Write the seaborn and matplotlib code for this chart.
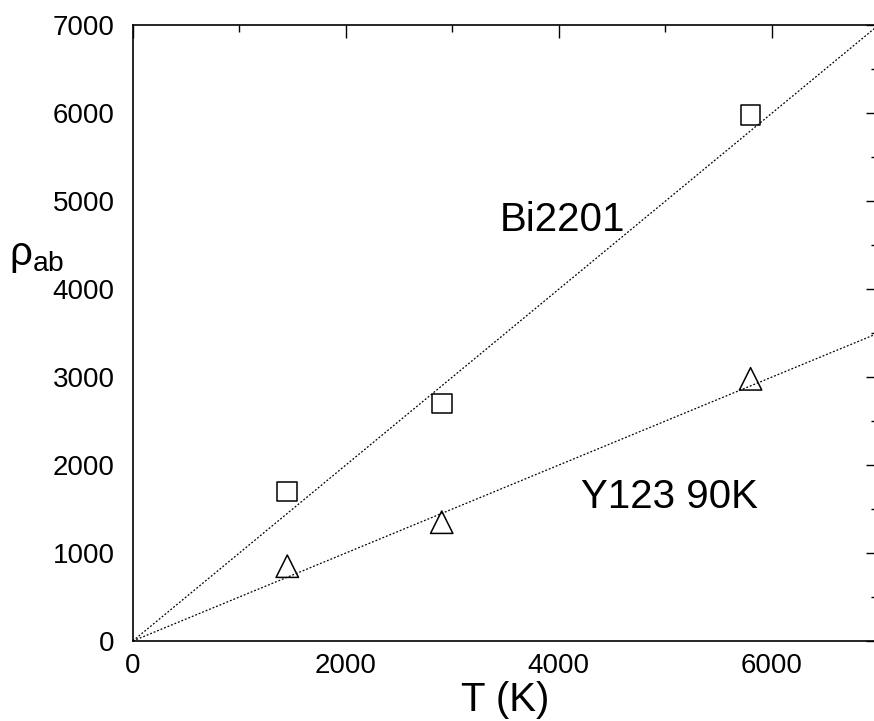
import numpy as np
import pandas as pd
import matplotlib
matplotlib.use('Agg')
import matplotlib.pyplot as plt
import seaborn as sns
from matplotlib.ticker import MultipleLocator

# ----------------------------------------------------------------------------
# Data

temps = [1450, 2900, 5800]
rho_bi2201 = [1700, 2700, 5980]
rho_y123 = [850, 1350, 2980]
samples = ['Bi2201', 'Y123 90K']
fit_slopes = [1.0, 0.5]
fit_T = [0, 7000]

# ----------------------------------------------------------------------------

sns.set_theme(style='white')
plt.rcParams['font.family'] = ['Liberation Sans', 'DejaVu Sans']
plt.rcParams['mathtext.fontset'] = 'custom'
plt.rcParams['mathtext.rm'] = 'Liberation Sans'
plt.rcParams['mathtext.it'] = 'Liberation Sans:italic'
plt.rcParams['text.color'] = 'black'
plt.rcParams['axes.labelcolor'] = 'black'

pts = pd.DataFrame({'T': temps * 2,
                    'rho': rho_bi2201 + rho_y123,
                    'sample': [samples[0]] * 3 + [samples[1]] * 3})
fits = pd.DataFrame({'T': fit_T * 2,
                     'rho': [s * t for s in fit_slopes for t in fit_T],
                     'sample': [samples[0]] * 2 + [samples[1]] * 2})

fig = plt.figure(figsize=(8.74, 7.21), dpi=100)
ax = fig.add_axes([0.152, 0.111, 0.853, 0.854])

for name in samples:
    d = fits[fits['sample'] == name]
    sns.lineplot(data=d, x='T', y='rho', ax=ax, color='black', lw=0.9,
                 linestyle=(0, (1.5, 1.5)), legend=False)

mk = {samples[0]: 's', samples[1]: '^'}
sz = {samples[0]: 200, samples[1]: 260}
for name in samples:
    d = pts[pts['sample'] == name]
    sns.scatterplot(data=d, x='T', y='rho', ax=ax, marker=mk[name], s=sz[name],
                    facecolors='none', edgecolor='black', linewidth=1.1,
                    legend=False, zorder=3)

ax.set_xlim(0, 7000)
ax.set_ylim(0, 7000)
ax.xaxis.set_major_locator(MultipleLocator(2000))
ax.xaxis.set_minor_locator(MultipleLocator(1000))
ax.yaxis.set_major_locator(MultipleLocator(1000))
ax.yaxis.set_minor_locator(MultipleLocator(500))
ax.tick_params(which='both', direction='in', top=True, right=True,
               colors='black', labelsize=20)
ax.tick_params(which='major', length=9, width=1)
ax.tick_params(which='minor', length=5, width=1)
ax.tick_params(axis='x', pad=9)
ax.tick_params(axis='y', pad=13)
for sp in ax.spines.values():
    sp.set_color('black')
    sp.set_linewidth(1.2)

ax.set_xlabel('T (K)', fontsize=29, labelpad=1, color='black')
ax.set_ylabel('')
fig.text(0.01, 0.645, r'$\mathrm{\rho}_{\mathrm{ab}}$', fontsize=29,
         ha='left', va='center', color='black')

ax.text(4030, 4790, samples[0], fontsize=29, ha='center', va='center', color='black')
ax.text(5040, 1640, samples[1], fontsize=29, ha='center', va='center', color='black')

fig.savefig('out.png', dpi=100)
